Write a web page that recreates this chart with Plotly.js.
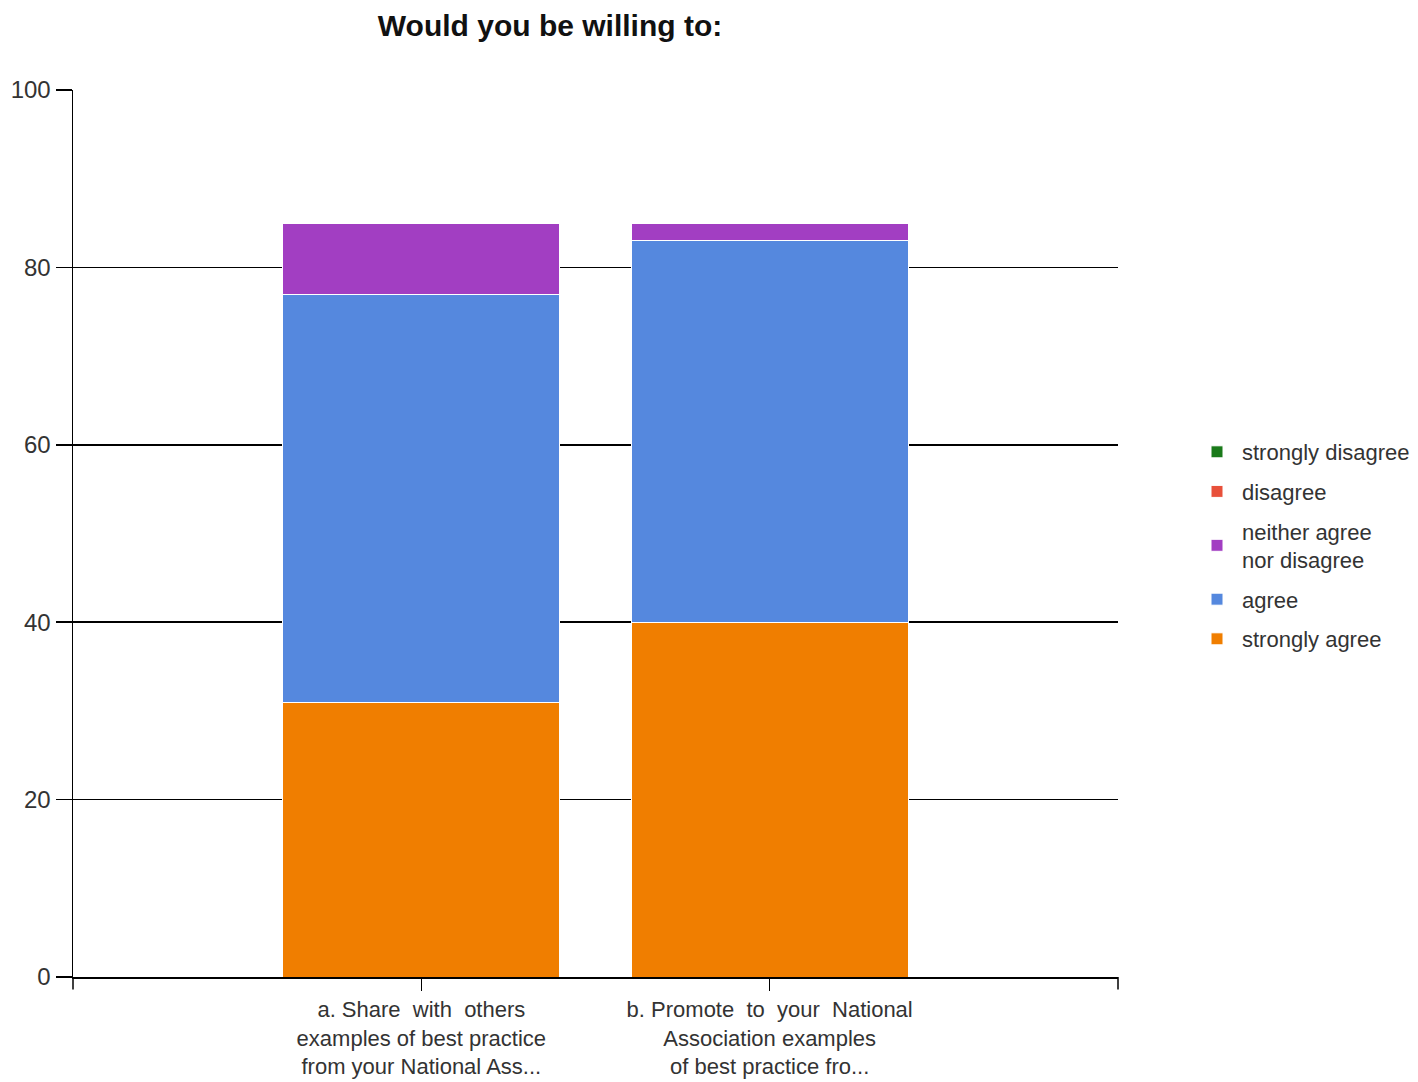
<!DOCTYPE html>
<html>
<head>
<meta charset="utf-8">
<script src="https://cdn.plot.ly/plotly-3.0.1.min.js"></script>
<style>html,body{margin:0;padding:0;background:#fff;}#chart{width:1418px;height:1082px;}</style>
</head>
<body>
<div id="chart"></div>
<script>
const categories = [
  "a. Share  with  others<br>examples of best practice<br>from your National Ass...",
  "b. Promote  to  your  National<br>Association examples<br>of best practice fro..."
];
const seriesNames = ["strongly agree", "agree", "neither agree<br>nor disagree", "disagree", "strongly disagree"];
const stronglyAgree = [31, 40];
const agree = [46, 43];
const neither = [8, 2];
const disagree = [0, 0];
const stronglyDisagree = [0, 0];
const yTicks = [0, 20, 40, 60, 80, 100];

const values = [stronglyAgree, agree, neither, disagree, stronglyDisagree];
const colors = ["#F07E00", "#5588DE", "#A23EC2", "#E8503A", "#1A7A1A"];

const traces = values.map((v, i) => ({
  type: "bar",
  name: seriesNames[i],
  legendgroup: "g" + i,
  legendrank: 5 - i,
  x: [0, 1],
  y: v,
  width: 0.795,
  marker: { color: colors[i], line: { color: "#ffffff", width: 1 } },
  hoverinfo: "name+y"
}));

const layout = {
  width: 1418,
  height: 1082,
  margin: { l: 73, r: 300, t: 90, b: 105 },
  paper_bgcolor: "#ffffff",
  plot_bgcolor: "#ffffff",
  barmode: "stack",
  font: { family: "Liberation Sans, Arial, sans-serif", color: "#333333", size: 20 },
  title: {
    text: "<b>Would you be willing to:</b>",
    font: { family: "Liberation Sans, Arial, sans-serif", size: 30, color: "#111111" },
    x: 550 / 1418, xanchor: "center", y: 1 - 25 / 1082, yanchor: "middle"
  },
  xaxis: {
    range: [-1, 2],
    tickmode: "array",
    tickvals: [0, 1],
    ticktext: categories,
    ticks: "outside",
    ticklen: 12,
    tickcolor: "#000",
    tickwidth: 1.5,
    showgrid: false,
    showline: true,
    linecolor: "#000",
    linewidth: 1.5,
    zeroline: false,
    automargin: false,
    tickfont: { size: 22, color: "#333333" },
    fixedrange: true
  },
  yaxis: {
    range: [0, 100],
    tickmode: "array",
    tickvals: yTicks,
    ticks: "outside",
    ticklen: 16,
    tickcolor: "#000",
    tickwidth: 1.5,
    showgrid: true,
    gridcolor: "#000",
    gridwidth: 1.6,
    showline: true,
    linecolor: "#000",
    linewidth: 1.5,
    zeroline: false,
    automargin: false,
    tickfont: { size: 24, color: "#333333" },
    fixedrange: true
  },
  legend: {
    xref: "container", yref: "container",
    x: 1192 / 1418, xanchor: "left",
    y: 1 - 431 / 1082, yanchor: "top",
    traceorder: "grouped",
    font: { size: 22, color: "#333333" },
    itemwidth: 40,
    tracegroupgap: 8,
    bgcolor: "rgba(0,0,0,0)"
  },
  shapes: [
    { type: "line", xref: "paper", yref: "paper", x0: 0, x1: 0, y0: 0, y1: -0.014, line: { color: "#000", width: 1.5 } },
    { type: "line", xref: "paper", yref: "paper", x0: 1, x1: 1, y0: 0, y1: -0.014, line: { color: "#000", width: 1.5 } }
  ],
  showlegend: true
};

Plotly.newPlot("chart", traces, layout, { displayModeBar: false, staticPlot: true });
</script>
</body>
</html>
